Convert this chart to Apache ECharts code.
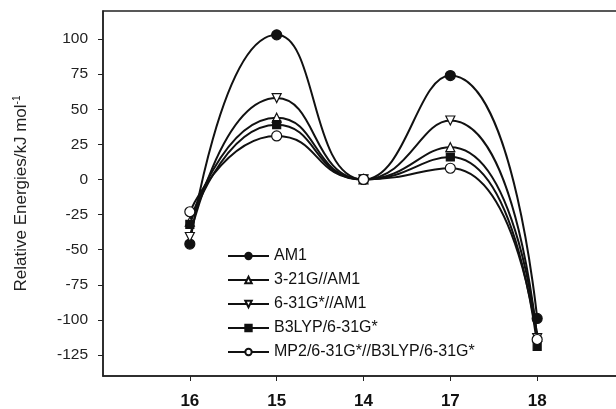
<!DOCTYPE html>
<html>
<head>
<meta charset="utf-8">
<script src="https://cdn.jsdelivr.net/npm/echarts@6/dist/echarts.min.js"></script>
<style>
  html, body { margin: 0; padding: 0; background: #fff; }
  #chart { width: 616px; height: 409px; }
</style>
</head>
<body>
<div id="chart"></div>
<script>
var categories = ["16", "15", "14", "17", "18"];
var seriesNames = ["AM1", "3-21G//AM1", "6-31G*//AM1", "B3LYP/6-31G*", "MP2/6-31G*//B3LYP/6-31G*"];
var am1 = [-46, 103, 0, 74, -99];
var g321 = [-30, 44, 0, 23, -112];
var g631 = [-41, 58, 0, 42, -113];
var b3lyp = [-32, 39, 0, 16, -119];
var mp2 = [-23, 31, 0, 8, -114];
var yTicks = [-125, -100, -75, -50, -25, 0, 25, 50, 75, 100];
var xTicks = [1, 2, 3, 4, 5];

var myChart = echarts.init(document.getElementById("chart"));

function toPoints(arr) {
  return arr.map(function (v, i) {
    return [i + 1, v];
  });
}

function makeSeries(name, data, symbol, fill, rotate, size) {
  return {
    name: name,
    type: "line",
    smooth: 0.55,
    data: toPoints(data),
    symbol: symbol,
    symbolSize: size,
    symbolRotate: rotate,
    lineStyle: { color: "#111", width: 2 },
    itemStyle: { color: fill, borderColor: "#111", borderWidth: 1.2 },
    z: 3,
  };
}

option = {
  backgroundColor: "#fff",
  animation: false,
  grid: {
    left: 103,
    top: 11,
    right: -8,
    bottom: 33,
    outerBoundsMode: "none",
    show: true,
    borderColor: "#222",
    borderWidth: 1.5,
  },
  legend: {
    orient: "vertical",
    left: 222,
    top: 243,
    itemWidth: 41,
    itemHeight: 8,
    itemGap: 8,
    textStyle: { fontFamily: "Liberation Sans", fontSize: 16, color: "#111" },
    data: seriesNames,
  },
  xAxis: {
    type: "value",
    min: 0,
    max: 6,
    splitLine: { show: false },
    axisLine: { onZero: false, lineStyle: { color: "#222", width: 1.5 } },
    axisTick: { length: 5, lineStyle: { color: "#222" }, customValues: xTicks },
    axisLabel: {
      margin: 17,
      fontFamily: "Liberation Sans",
      fontSize: 17,
      fontWeight: "bold",
      color: "#111",
      customValues: xTicks,
      formatter: function (v) {
        return categories[v - 1] || "";
      },
    },
  },
  yAxis: {
    type: "value",
    min: -140,
    max: 120,
    splitLine: { show: false },
    axisLine: { lineStyle: { color: "#222", width: 1.5 } },
    axisTick: { length: 5, lineStyle: { color: "#222" }, customValues: yTicks },
    axisLabel: {
      margin: 15,
      fontFamily: "Liberation Sans",
      fontSize: 15.5,
      color: "#222",
      customValues: yTicks,
    },
    name: "Relative Energies/kJ mol{sup|-1}",
    nameLocation: "middle",
    nameGap: 72,
    nameRotate: 90,
    nameTextStyle: {
      fontFamily: "Liberation Sans",
      fontSize: 17,
      color: "#222",
      rich: {
        sup: { fontFamily: "Liberation Sans", fontSize: 10, color: "#222", verticalAlign: "top", padding: [0, 0, 9, 0] },
      },
    },
  },
  series: [
    makeSeries(seriesNames[0], am1, "circle", "#111", 0, 10),
    makeSeries(seriesNames[1], g321, "triangle", "#fff", 0, 9),
    makeSeries(seriesNames[2], g631, "triangle", "#fff", 180, 9),
    makeSeries(seriesNames[3], b3lyp, "rect", "#111", 0, 8),
    makeSeries(seriesNames[4], mp2, "circle", "#fff", 0, 10),
  ],
};

myChart.setOption(option);
</script>
</body>
</html>
